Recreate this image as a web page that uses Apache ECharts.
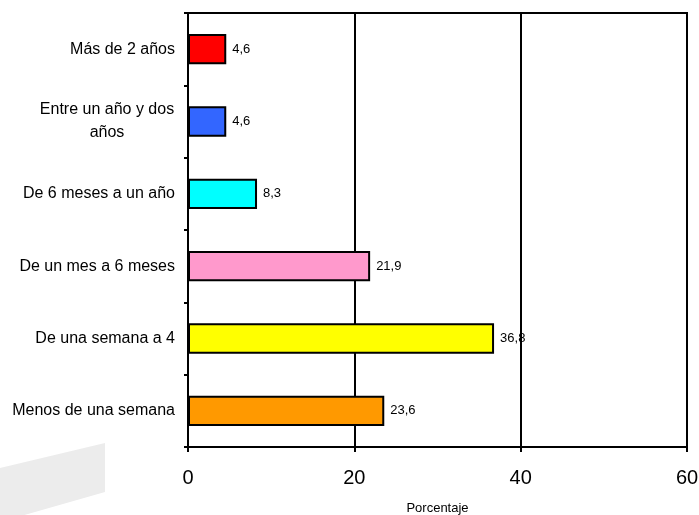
<!DOCTYPE html>
<html>
<head>
<meta charset="utf-8">
<script src="https://cdn.jsdelivr.net/npm/echarts@6/dist/echarts.min.js"></script>
<style>
  html, body { margin: 0; padding: 0; background: #ffffff; }
  #chart { width: 699px; height: 515px; }
</style>
</head>
<body>
<div id="chart"></div>
<script>
// Duration categories, listed top to bottom
const categories = [
  'Más de 2 años',
  'Entre un año y dos\naños',
  'De 6 meses a un año',
  'De un mes a 6 meses',
  'De una semana a 4',
  'Menos de una semana'
];
const values = [4.6, 4.6, 8.3, 21.9, 36.8, 23.6];
const barColors = ['#ff0000', '#3366ff', '#00ffff', '#ff99cc', '#ffff00', '#ff9900'];
const xTicks = [0, 20, 40, 60];

const FONT = '"Liberation Sans", Arial, sans-serif';

const chart = echarts.init(document.getElementById('chart'), null, { renderer: 'canvas' });

chart.setOption({
  backgroundColor: '#ffffff',
  animation: false,
  graphic: [{
    type: 'polygon',
    z: -10,
    shape: { points: [[0, 468], [105, 443], [105, 492], [0, 522]] },
    style: { fill: '#ececec' }
  }],
  grid: {
    left: 188, right: 12, top: 13, bottom: 68,
    outerBoundsMode: 'none',
    show: true, borderColor: '#000', borderWidth: 2, backgroundColor: 'transparent'
  },
  xAxis: {
    type: 'value',
    min: xTicks[0],
    max: xTicks[xTicks.length - 1],
    interval: 20,
    name: 'Porcentaje',
    nameLocation: 'middle',
    nameGap: 55,
    nameTextStyle: { color: '#000', fontFamily: FONT, fontSize: 13 },
    axisLine: { show: true, lineStyle: { color: '#000', width: 2 } },
    axisTick: { show: true, length: 5, lineStyle: { color: '#000', width: 2 } },
    axisLabel: { color: '#000', fontFamily: FONT, fontSize: 20, margin: 21 },
    splitLine: { show: true, lineStyle: { color: '#000', width: 2 } }
  },
  yAxis: {
    type: 'category',
    inverse: true,
    data: categories,
    axisLine: { show: true, lineStyle: { color: '#000', width: 2 } },
    axisTick: { show: true, length: 4, lineStyle: { color: '#000', width: 2 } },
    axisLabel: {
      color: '#000', fontFamily: FONT, fontSize: 16, margin: 13, lineHeight: 23,
      formatter: function (v) {
        if (v.indexOf('\n') >= 0) {
          return v.split('\n').map(function (s) { return '{c|' + s + '}'; }).join('\n');
        }
        return v;
      },
      rich: { c: { width: 136, align: 'center', fontFamily: FONT, fontSize: 16, lineHeight: 23, color: '#000' } }
    },
    splitLine: { show: false }
  },
  series: [{
    type: 'bar',
    data: values.map(function (v, i) {
      return { value: v, itemStyle: { color: barColors[i] } };
    }),
    barCategoryGap: '58%',
    itemStyle: { borderColor: '#000', borderWidth: 2 },
    label: {
      show: true,
      position: 'right',
      distance: 6,
      color: '#000',
      fontFamily: FONT,
      fontSize: 13,
      formatter: function (p) { return String(p.value).replace('.', ','); }
    }
  }]
});
</script>
</body>
</html>
